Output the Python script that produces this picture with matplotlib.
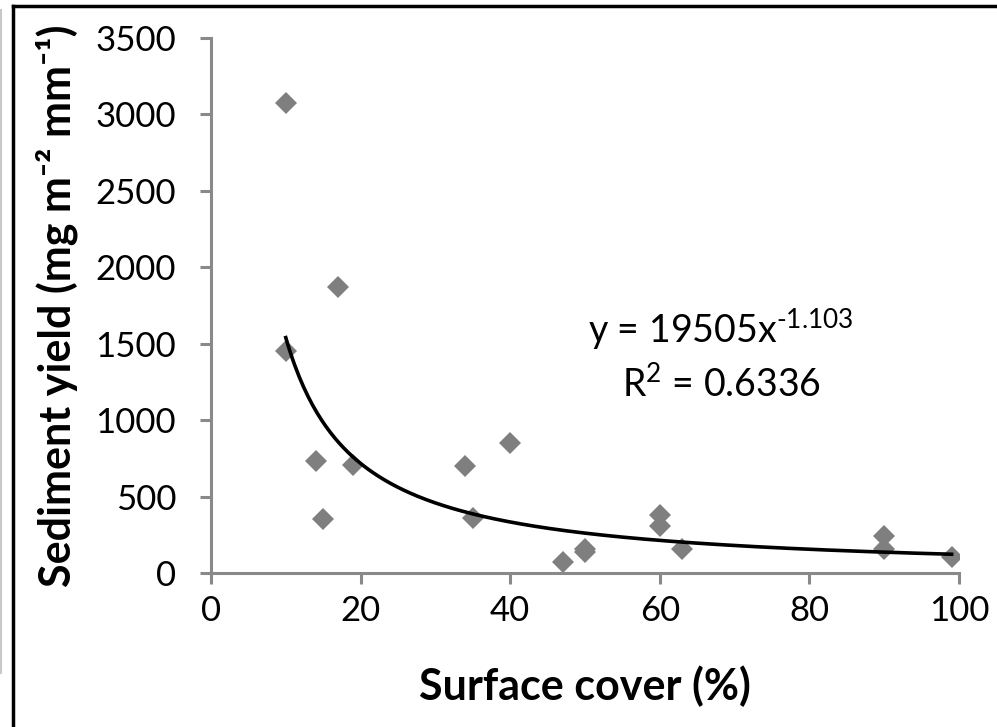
import numpy as np
import matplotlib
matplotlib.use("Agg")
import matplotlib.pyplot as plt
from matplotlib.lines import Line2D

# surface cover (%) and sediment yield (mg m-2 mm-1)
cover = [10, 10, 14, 15, 17, 19, 34, 35, 40, 47, 50, 50, 60, 60, 63, 90, 90, 99]
sediment = [3075, 1450, 730, 350, 1870, 705, 700, 360, 850, 72, 160, 140, 380, 310, 160, 240, 160, 105]

# power trend line y = a * x^b
fit_a = 19505
fit_b = -1.103
fit_r2 = 0.6336

plt.rcParams['font.family'] = ['Lato', 'DejaVu Sans']
plt.rcParams['mathtext.fontset'] = 'custom'
plt.rcParams['mathtext.rm'] = 'Lato'
plt.rcParams['axes.unicode_minus'] = False
grey = '#898989'

fig = plt.figure(figsize=(9.97, 7.27), dpi=100)
ax = fig.add_axes([0.2116, 0.2118, 0.962 - 0.2116, 0.9484 - 0.2118])

ax.plot(cover, sediment, linestyle='none', marker='D', markersize=11.5,
        color='#7f7f7f', markeredgewidth=0)

xs = np.linspace(min(cover), max(cover), 300)
ax.plot(xs, fit_a * xs ** fit_b, color='black', linewidth=2.6)

ax.set_xlim(0, 100)
ax.set_ylim(0, 3500)
ax.set_xticks(range(0, 101, 20))
ax.set_yticks(range(0, 3501, 500))

for side in ['top', 'right']:
    ax.spines[side].set_visible(False)
for side in ['left', 'bottom']:
    ax.spines[side].set_color(grey)
    ax.spines[side].set_linewidth(2.2)
ax.tick_params(colors=grey, width=2.2, length=8, labelsize=25, labelcolor='black')
ax.tick_params(axis='x', pad=8)
ax.tick_params(axis='y', pad=17)

ax.set_xlabel('Surface cover (%)', fontsize=31, fontweight='bold')
ax.set_ylabel('Sediment yield (mg m\u207b\u00b2 mm\u207b\u00b9)', fontsize=31, fontweight='bold')
ax.xaxis.label.set_va('center')
ax.xaxis.set_label_coords(0.5, -0.211)
ax.yaxis.label.set_va('center')
ax.yaxis.set_label_coords(-0.206, 0.5)

ax.text(68.2, 1590, 'y = %dx$^{\\text{%.3f}}$' % (fit_a, fit_b), fontsize=27, ha='center', va='center')
ax.text(68.2, 1230, 'R$^{\\text{2}}$ = %s' % fit_r2, fontsize=27, ha='center', va='center')

# chart area outline (cut off at right and bottom) and grey edge at far left
fig.add_artist(Line2D([13 / 997, 1], [1 - 6 / 727] * 2, color='black', linewidth=2.5,
                      transform=fig.transFigure))
fig.add_artist(Line2D([13 / 997] * 2, [0, 1 - 6 / 727], color='black', linewidth=2.5,
                      transform=fig.transFigure))
fig.add_artist(Line2D([1 / 997] * 2, [1 - 673 / 727, 1 - 10 / 727], color='#c8c8c8',
                      linewidth=1.5, transform=fig.transFigure))

fig.savefig('out.png', dpi=100)
